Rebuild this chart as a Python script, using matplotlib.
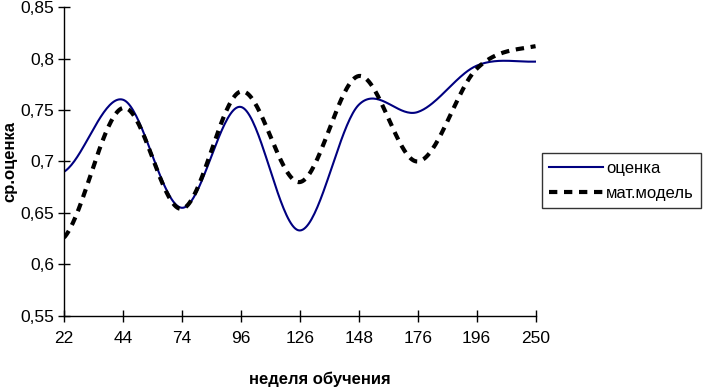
import numpy as np
import matplotlib
matplotlib.use('Agg')
import matplotlib.pyplot as plt

plt.rcParams['font.family'] = ['Liberation Sans', 'DejaVu Sans']

weeks = ['22', '44', '74', '96', '126', '148', '176', '196', '250']
otsenka = [0.690, 0.760, 0.655, 0.753, 0.633, 0.755, 0.748, 0.793, 0.797]
model = [0.626, 0.752, 0.654, 0.768, 0.680, 0.783, 0.700, 0.790, 0.812]


def smooth(ys, n=40):
    # catmull-rom like Excel's smoothed line
    xs = np.arange(len(ys), dtype=float)
    ys = np.asarray(ys, dtype=float)
    px = np.concatenate([[2 * xs[0] - xs[1]], xs, [2 * xs[-1] - xs[-2]]])
    py = np.concatenate([[ys[0]], ys, [ys[-1]]])
    outx, outy = [], []
    for i in range(1, len(px) - 2):
        p0, p1, p2, p3 = py[i - 1], py[i], py[i + 1], py[i + 2]
        x0, x1, x2, x3 = px[i - 1], px[i], px[i + 1], px[i + 2]
        t = np.linspace(0, 1, n, endpoint=False)
        c1x, c1y = x1 + (x2 - x0) / 6, p1 + (p2 - p0) / 6
        c2x, c2y = x2 - (x3 - x1) / 6, p2 - (p3 - p1) / 6
        bx = (1 - t)**3 * x1 + 3 * (1 - t)**2 * t * c1x + 3 * (1 - t) * t**2 * c2x + t**3 * x2
        by = (1 - t)**3 * p1 + 3 * (1 - t)**2 * t * c1y + 3 * (1 - t) * t**2 * c2y + t**3 * p2
        outx.extend(bx)
        outy.extend(by)
    outx.append(xs[-1])
    outy.append(ys[-1])
    return np.array(outx), np.array(outy)


fig = plt.figure(figsize=(7.07, 3.91), dpi=100)
ax = fig.add_axes([0.0905, 0.192, 0.667, 0.790])

sx, sy = smooth(otsenka)
ax.plot(sx, sy, color='#000080', lw=1.5, label='оценка')
mx, my = smooth(model)
ax.plot(mx, my, color='black', lw=3, dashes=(2, 1.6), label='мат.модель')

ax.set_xlim(0, len(weeks) - 1)
ax.set_ylim(0.55, 0.85)
ax.set_xticks(range(len(weeks)))
ax.set_xticklabels(weeks)
yt = np.arange(0.55, 0.851, 0.05)
ax.set_yticks(yt)
ax.set_yticklabels(['0,55', '0,6', '0,65', '0,7', '0,75', '0,8', '0,85'])
ax.tick_params(direction='inout', length=8, width=1, labelsize=12.5)
ax.tick_params(axis='x', pad=7)
ax.tick_params(axis='y', pad=3)
for s in ['top', 'right']:
    ax.spines[s].set_visible(False)
ax.spines['left'].set_linewidth(1)
ax.spines['bottom'].set_linewidth(1)

ax.set_xlabel('неделя обучения', fontsize=12, fontweight='bold')
ax.xaxis.set_label_coords(0.542, -0.18)
ax.set_ylabel('ср.оценка', fontsize=12, fontweight='bold')
ax.yaxis.set_label_coords(-0.098, 0.5)

leg = ax.legend(loc='center left', bbox_to_anchor=(1.013, 0.437), frameon=True,
                fancybox=False, edgecolor='black', fontsize=12,
                handlelength=3.2, handletextpad=0.2, borderpad=0.45, labelspacing=0.6,
                borderaxespad=0)
leg.get_frame().set_linewidth(1)

fig.savefig('out.png', dpi=100)
